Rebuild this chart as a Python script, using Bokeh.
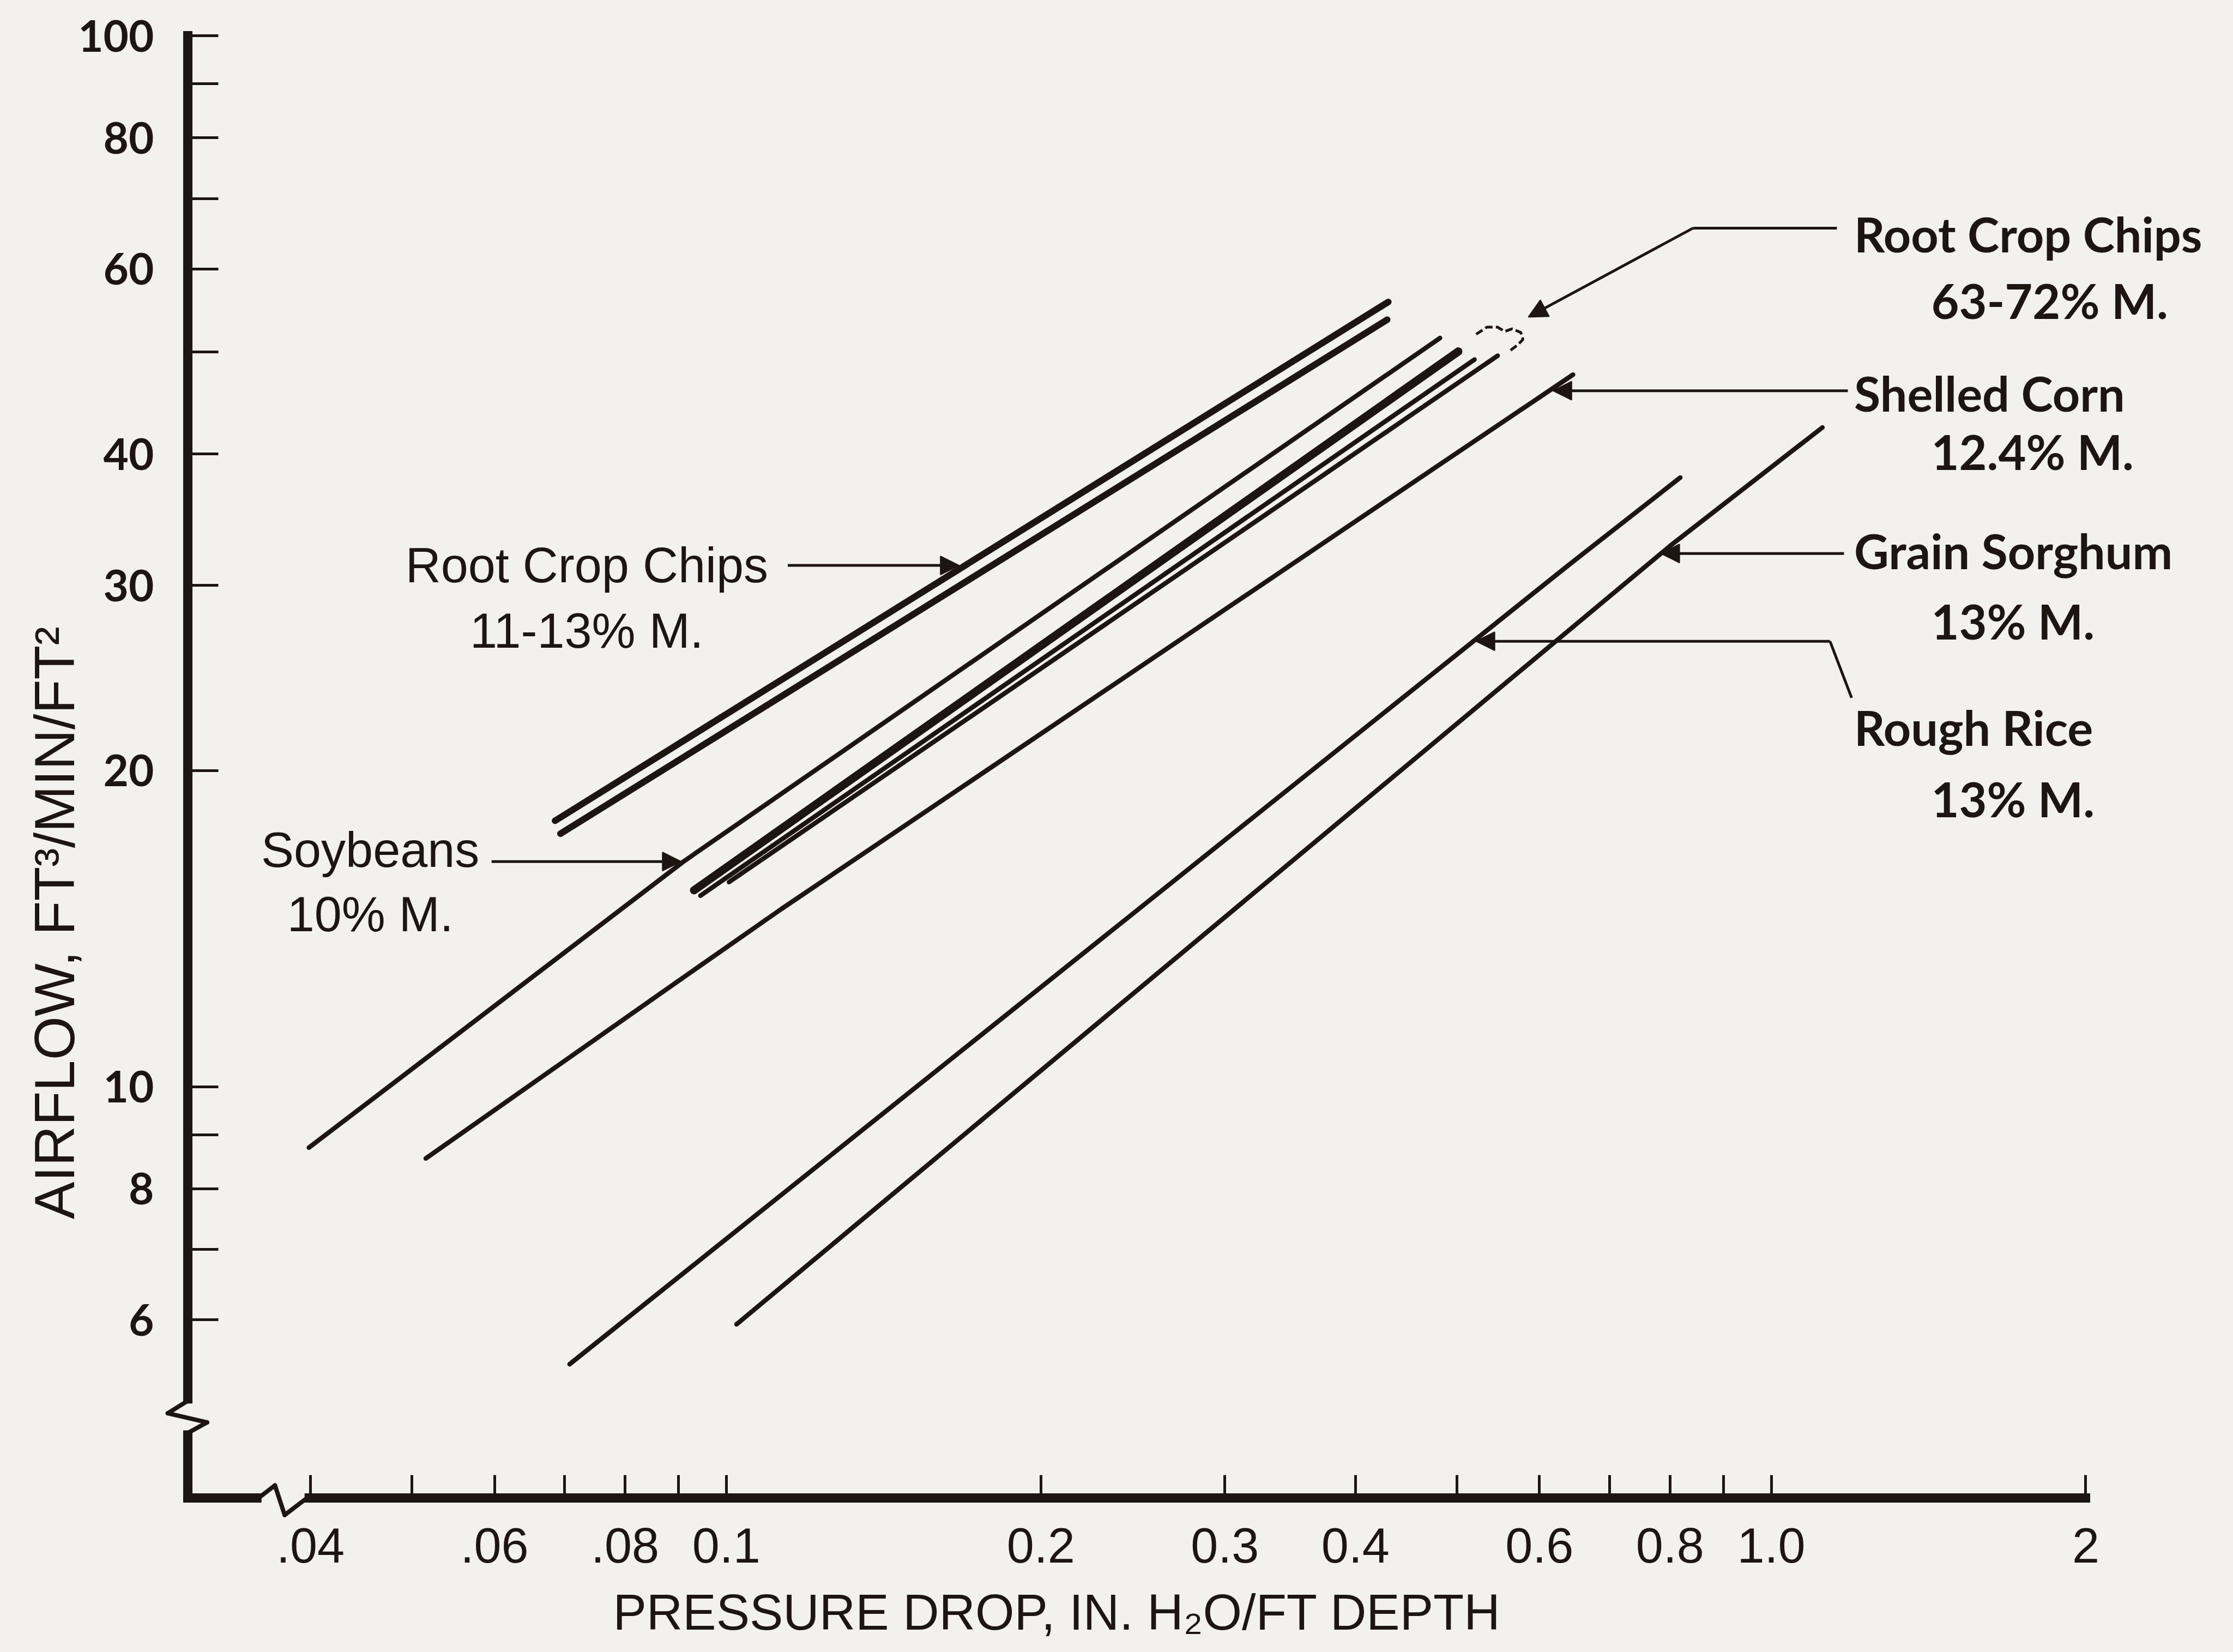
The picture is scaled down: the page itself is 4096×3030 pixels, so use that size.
import math
from bokeh.plotting import figure
from bokeh.models import FixedTicker, Label, Arrow, NormalHead
from bokeh.embed import file_html
from bokeh.resources import INLINE

INK = "#1d1512"
PAPER = "#f3f1ee"

# ---------------- axes ----------------
view_x = (0.020191, 2.7153)      # visible pressure-drop span of the drawing area
view_y = (2.9527, 108.10)        # visible airflow span of the drawing area
x_axis_at, x_axis_end = 0.03052, 2.0
y_axis_at, y_axis_end = 4.064, 100.0
x_ticks = [0.04, 0.05, 0.06, 0.07, 0.08, 0.09, 0.1, 0.2, 0.3, 0.4, 0.5, 0.6, 0.7, 0.8, 0.9, 1.0, 2.0]
x_tick_labels = [".04", "", ".06", "", ".08", "", "0.1", "0.2", "0.3", "0.4", "", "0.6", "", "0.8", "", "1.0", "2"]
y_ticks = [6, 7, 8, 9, 10, 20, 30, 40, 50, 60, 70, 80, 90, 100]
y_tick_labels = ["6", "", "8", "", "10", "20", "30", "40", "", "60", "", "80", "", "100"]

# ---------------- curves (pressure drop, airflow) ----------------
soy_p = [0.03986, 0.09116, 0.11287, 0.48194]
soy_q = [8.751, 16.40, 19.00, 51.58]
corn_p = [0.05157, 0.08560, 0.11287, 0.46896, 0.64611]
corn_q = [8.547, 12.18, 14.76, 38.40, 47.60]
sorghum_p = [0.10228, 0.8000, 1.1194]
sorghum_q = [5.942, 32.70, 42.40]
rice_p = [0.07080, 0.6385, 0.8183]
rice_q = [5.445, 31.31, 37.99]
chips_dry_a_p = [0.06856, 0.43004]
chips_dry_a_q = [17.91, 55.82]
chips_dry_b_p = [0.06938, 0.42901]
chips_dry_b_q = [17.41, 53.69]
chips_wet_a_p = [0.09313, 0.50179]
chips_wet_a_q = [15.38, 50.08]
chips_wet_b_p = [0.09446, 0.51997]
chips_wet_b_q = [15.20, 49.20]
chips_wet_c_p = [0.10060, 0.54719]
chips_wet_c_q = [15.66, 49.61]

# small hand-drawn bracket over the wet chip curves
bracket_p = [0.5219, 0.5344, 0.5472, 0.5557, 0.5650, 0.5759, 0.5786, 0.5718, 0.5604]
bracket_q = [52.01, 52.82, 52.82, 52.32, 52.63, 52.20, 51.40, 50.80, 50.03]

# ---------------- text ----------------
left_labels = ["Root Crop Chips", "11-13% M.", "Soybeans", "10% M."]
left_label_p = [0.07353, 0.07353, 0.04563, 0.04563]
left_label_q = [31.34, 27.16, 16.79, 14.59]

right_labels = ["Root Crop Chips", "63-72% M.", "Shelled Corn", "12.4% M.",
                "Grain Sorghum", "13% M.", "Rough Rice", "13% M."]
right_label_p = [1.2005, 1.4226, 1.2005, 1.4226, 1.2005, 1.4226, 1.2005, 1.4226]
right_label_q = [64.83, 56.01, 45.72, 40.25, 32.35, 27.75, 21.97, 18.80]

x_title = "PRESSURE DROP, IN. H\u2082O/FT DEPTH"
x_title_at = (0.20725, 3.162)
y_title = "AIRFLOW, FT\u00b3/MIN/FT\u00b2"
y_title_at = (0.022769, 14.32)

# leader arrows: (x_start, y_start, x_end, y_end, head?)
leaders = [
    (0.11449, 31.34, 0.16700, 31.34, True),    # root crop chips 11-13
    (0.05962, 16.38, 0.09051, 16.38, True),    # soybeans
    (1.1557, 65.62, 0.8418, 65.62, False),     # root crop chips 63-72
    (0.8418, 65.62, 0.5856, 54.01, True),
    (1.1838, 45.95, 0.6183, 45.95, True),      # shelled corn
    (1.1739, 32.17, 0.7842, 32.17, True),      # grain sorghum
    (1.1937, 23.45, 1.1382, 26.54, False),     # rough rice
    (1.1382, 26.54, 0.5219, 26.54, True),
]

# axis break marks
yb_x = [0.030517, 0.029205, 0.031849, 0.030517]
yb_y = [5.0255, 4.8909, 4.7938, 4.6821]
xb_x = [0.035693, 0.036987, 0.037785, 0.039717]
xb_y = [4.0637, 4.1755, 3.9131, 4.0637]

p = figure(width=4080, height=3014, x_axis_type="log", y_axis_type="log",
           x_range=view_x, y_range=view_y,
           output_backend="svg", toolbar_location=None,
           min_border_left=0, min_border_right=0, min_border_top=0, min_border_bottom=0)
p.background_fill_color = PAPER
p.border_fill_color = PAPER
p.outline_line_color = None
p.xgrid.visible = False
p.ygrid.visible = False

xa = p.xaxis[0]
ya = p.yaxis[0]
xa.fixed_location = y_axis_at
ya.fixed_location = x_axis_at
xa.bounds = (x_axis_at, x_axis_end)
ya.bounds = (y_axis_at, y_axis_end)
xa.ticker = FixedTicker(ticks=x_ticks, minor_ticks=[])
ya.ticker = FixedTicker(ticks=y_ticks, minor_ticks=[])
xa.major_label_overrides = {t: l for t, l in zip(x_ticks, x_tick_labels)}
ya.major_label_overrides = {t: l for t, l in zip(y_ticks, y_tick_labels)}
for ax in (xa, ya):
    ax.axis_line_color = INK
    ax.axis_line_width = 17
    ax.axis_line_cap = "square"
    ax.major_tick_line_color = INK
    ax.major_tick_line_width = 5
    ax.major_tick_out = 0
    ax.minor_tick_in = 0
    ax.minor_tick_out = 0
    ax.major_label_text_color = INK
xa.major_tick_in = 42
ya.major_tick_in = 56
xa.major_label_standoff = 56
ya.major_label_standoff = 62
xa.major_label_text_font = "Liberation Sans"
xa.major_label_text_font_size = "90px"
ya.major_label_text_font = "Lato"
ya.major_label_text_font_style = "bold"
ya.major_label_text_font_size = "80px"

curves = [
    (soy_p, soy_q, 8.5), (corn_p, corn_q, 8.5), (sorghum_p, sorghum_q, 8.5), (rice_p, rice_q, 8.5),
    (chips_dry_a_p, chips_dry_a_q, 12), (chips_dry_b_p, chips_dry_b_q, 12),
    (chips_wet_a_p, chips_wet_a_q, 15), (chips_wet_b_p, chips_wet_b_q, 8.5), (chips_wet_c_p, chips_wet_c_q, 8.5),
]
for xs, ys, w in curves:
    p.line(xs, ys, line_color=INK, line_width=w, line_cap="round")

p.line(bracket_p, bracket_q, line_color=INK, line_width=5, line_dash="14 6")

for (x0, y0, x1, y1, head) in leaders:
    p.add_layout(Arrow(x_start=x0, y_start=y0, x_end=x1, y_end=y1,
                       line_color=INK, line_width=5,
                       end=NormalHead(size=34, fill_color=INK, line_color=INK, line_width=2) if head else None))

# gaps in the axis lines, then the zigzag break marks
p.add_layout(Arrow(x_start=x_axis_at, y_start=4.996, x_end=x_axis_at, y_end=4.710,
                   line_color=PAPER, line_width=26, end=None))
p.add_layout(Arrow(x_start=0.035905, y_start=y_axis_at, x_end=0.039481, y_end=y_axis_at,
                   line_color=PAPER, line_width=26, end=None))
for bx, by in ((yb_x, yb_y), (xb_x, xb_y)):
    for i in range(len(bx) - 1):
        p.add_layout(Arrow(x_start=bx[i], y_start=by[i], x_end=bx[i + 1], y_end=by[i + 1],
                           line_color=INK, line_width=8, line_cap="round", end=None))

for t, x, y in zip(left_labels, left_label_p, left_label_q):
    p.add_layout(Label(x=x, y=y, text=t, text_font="Liberation Sans", text_font_size="90px",
                       text_color=INK, text_align="center", text_baseline="alphabetic"))
for t, x, y in zip(right_labels, right_label_p, right_label_q):
    p.add_layout(Label(x=x, y=y, text=t, text_font="Lato", text_font_style="bold",
                       text_font_size="88px", text_color=INK, text_align="left", text_baseline="alphabetic"))

p.add_layout(Label(x=x_title_at[0], y=x_title_at[1], text=x_title, text_font="Liberation Sans",
                   text_font_size="92px", text_color=INK, text_align="center", text_baseline="alphabetic"))
p.add_layout(Label(x=y_title_at[0], y=y_title_at[1], text=y_title, text_font="Liberation Sans",
                   text_font_size="103px", text_color=INK, text_align="center", text_baseline="alphabetic",
                   angle=math.pi / 2))

page = """
{% block preamble %}<style>body { background: #f3f1ee; }</style>{% endblock %}
"""
open("out.html", "w").write(file_html(p, INLINE, template=page))
